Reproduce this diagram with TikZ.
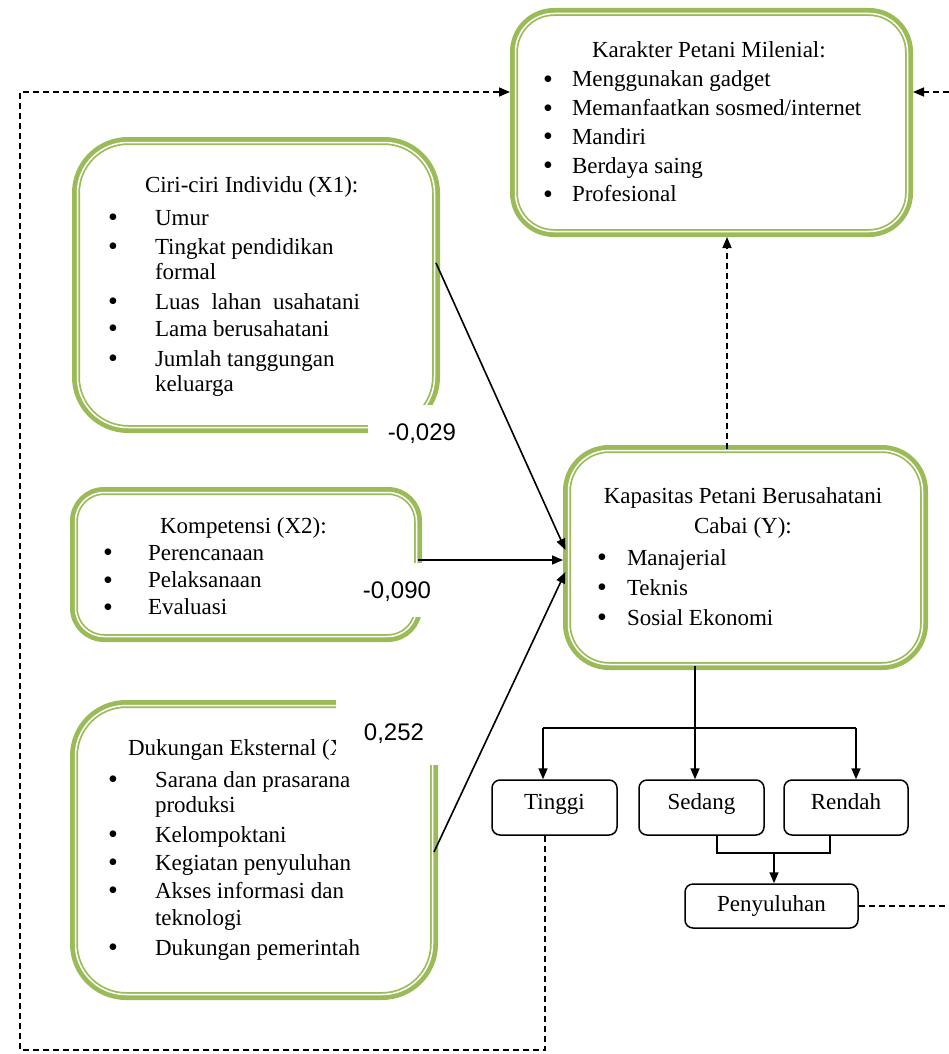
\documentclass[tikz,border=0pt]{standalone}
\usepackage{fontspec}
\setmainfont{Liberation Serif}
\newfontfamily\lsans{Liberation Sans}
\usetikzlibrary{arrows.meta}
\definecolor{olivegr}{HTML}{9BBB59}
\newcommand\bi[1]{\makebox[#1pt][l]{\hspace*{-1pt}\raisebox{-1.5pt}{\fontsize{28}{28}\selectfont\textbullet}}}
\newcommand\greenframe[3]{%
  \draw[gthick, rounded corners=#2pt] (#1.north west) rectangle (#1.south east);
  \draw[gwhite, rounded corners=#3pt] ([shift={(1.5,1.5)}]#1.north west) rectangle ([shift={(-1.5,-1.5)}]#1.south east);}
\begin{document}
\begin{tikzpicture}[x=1pt,y=-1pt,
  gthick/.style={draw=olivegr, line width=8pt},
  gwhite/.style={draw=white, line width=1.5pt},
  frame/.style={inner sep=0pt, outer sep=0pt, rectangle},
  txt/.style={inner sep=0pt, outer sep=0pt, anchor=base west},
  arr/.style={line width=1.6pt, -{Triangle[length=11pt,width=9pt]}},
  dsh/.style={line width=1.5pt, dash pattern=on 6pt off 4pt},
  toframe/.style={shorten >=4pt},
  sbox/.style={draw, line width=1.5pt, rounded corners=8pt, inner sep=0pt, font=\fontsize{23}{25}\selectfont, text height=15pt},
  lab/.style={fill=white, inner sep=0pt, font=\lsans\fontsize{24}{28}\selectfont, text height=17pt, text depth=0pt}]
\useasboundingbox (0,0) rectangle (949,1054);

% green boxes
\node[frame, minimum width=395pt, minimum height=221pt] (kar) at (711.5,122.5) {};
\node[frame, minimum width=360pt, minimum height=288pt] (ciri) at (256,285) {};
\node[frame, minimum width=344pt, minimum height=147pt] (komp) at (246,564.5) {};
\node[frame, minimum width=360pt, minimum height=292pt] (duk) at (254,850) {};
\node[frame, minimum width=357pt, minimum height=217pt] (kap) at (745.5,557.5) {};
\greenframe{kar}{40}{38.5}
\greenframe{ciri}{52}{50.5}
\greenframe{komp}{30}{28.5}
\greenframe{duk}{52}{50.5}
\greenframe{kap}{42}{40.5}

% texts
\node[txt] (kart) at (544,58) {\fontsize{23}{28.8}\selectfont\begin{tabular}[t]{@{}l@{}}
\hspace*{48pt}Karakter Petani Milenial:\\
\bi{28}Menggunakan gadget\\
\bi{28}Memanfaatkan sosmed/internet\\
\bi{28}Mandiri\\
\bi{28}Berdaya saing\\
\bi{28}Profesional
\end{tabular}};

\node[txt] (cirit) at (109,192) {\fontsize{23}{25}\selectfont\begin{tabular}[t]{@{}l@{}}
\hspace*{36pt}Ciri-ciri Individu (X1):\\[8pt]
\bi{46}Umur\\[4pt]
\bi{46}Tingkat pendidikan\\
\hspace*{46pt}formal\\[5pt]
\bi{46}\makebox[205pt][s]{Luas lahan usahatani}\\[2pt]
\bi{46}Lama berusahatani\\[5pt]
\bi{46}Jumlah tanggungan\\
\hspace*{46pt}keluarga
\end{tabular}};

\node[txt] (kompt) at (104,533) {\fontsize{23}{27.3}\selectfont\begin{tabular}[t]{@{}l@{}}
\hspace*{56pt}Kompetensi (X2):\\
\bi{44}Perencanaan\\
\bi{44}Pelaksanaan\\
\bi{44}Evaluasi
\end{tabular}};

\node[txt] (dukt) at (109,755) {\fontsize{23}{25}\selectfont\begin{tabular}[t]{@{}l@{}}
\hspace*{19pt}Dukungan Eksternal (X3):\\[7pt]
\bi{46}Sarana dan prasarana\\
\hspace*{46pt}produksi\\[5pt]
\bi{46}Kelompoktani\\[3pt]
\bi{46}Kegiatan penyuluhan\\[3pt]
\bi{46}Akses informasi dan\\[2pt]
\hspace*{46pt}teknologi\\[5pt]
\bi{46}Dukungan pemerintah
\end{tabular}};

\node[txt] (kapt) at (598,503) {\fontsize{23}{30}\selectfont\begin{tabular}[t]{@{}l@{}}
\makebox[290pt][c]{Kapasitas Petani Berusahatani}\\
\makebox[290pt][c]{Cabai (Y):}\\[2pt]
\bi{29}Manajerial\\
\bi{29}Teknis\\
\bi{29}Sosial Ekonomi
\end{tabular}};

% small boxes
\node[sbox, minimum width=125pt, minimum height=55pt, text depth=11pt] (tinggi) at (554.5,807.5) {Tinggi};
\node[sbox, minimum width=125pt, minimum height=55pt, text depth=11pt] (sedang) at (701.5,807.5) {Sedang};
\node[sbox, minimum width=124pt, minimum height=55pt, text depth=11pt] (rendah) at (846,807.5) {Rendah};
\node[sbox, minimum width=173pt, minimum height=44pt, text depth=5pt] (peny) at (771.5,906) {Penyuluhan};

% helper coordinates
\coordinate (split) at (695,728);
\coordinate (tl) at (543,728);
\coordinate (rl) at (856,728);
\coordinate (jl) at (717,853);
\coordinate (jr) at (830,853);
\coordinate (jm) at (774,853);
\coordinate (vx) at (727,400);
\coordinate (tx) at (545,1050);
\coordinate (bl) at (20,1050);
\coordinate (tl2) at (20,92);
\coordinate (rx) at (962,906);
\coordinate (ry) at (962,92);

% input arrows
\draw[arr, toframe] ([shift={(0,-22)}]ciri.east) -- ([shift={(0,-4)}]kap.west);
\draw[arr, toframe] ([shift={(0,-4.5)}]komp.east) -- ([shift={(0,2.5)}]kap.west);
\draw[arr, toframe] ([shift={(0,2)}]duk.east) -- ([shift={(0,11)}]kap.west);

% tree below Kapasitas
\draw[arr] (kap.south -| split) -- (sedang.north -| split);
\draw[line width=1.6pt] (tl) -- (rl);
\draw[arr] (tl) -- (tinggi.north -| tl);
\draw[arr] (rl) -- (rendah.north -| rl);
\draw[line width=1.6pt] (sedang.south -| jl) -- (jl) -- (jr) -- (rendah.south -| jr);
\draw[arr] (jm) -- (peny.north -| jm);

% dashed feedback
\draw[dsh, arr, toframe] (kap.north -| vx) -- (kar.south -| vx);
\draw[dsh, arr, toframe] (tinggi.south -| tx) -- (tx) -- (bl) -- (tl2) -- (kar.west |- tl2);
\draw[dsh, arr, toframe] (peny.east) -- (rx) -- (ry) -- (kar.east |- ry);

% coefficient labels
\node[lab, minimum width=108pt, minimum height=54pt] (l1) at (422,432) {-0,029};
\node[lab, minimum width=90pt, minimum height=54pt] (l2) at (397,590) {-0,090};
\node[lab, minimum width=116pt, minimum height=66pt] (l3) at (394,731.5) {0,252};
\end{tikzpicture}
\end{document}
